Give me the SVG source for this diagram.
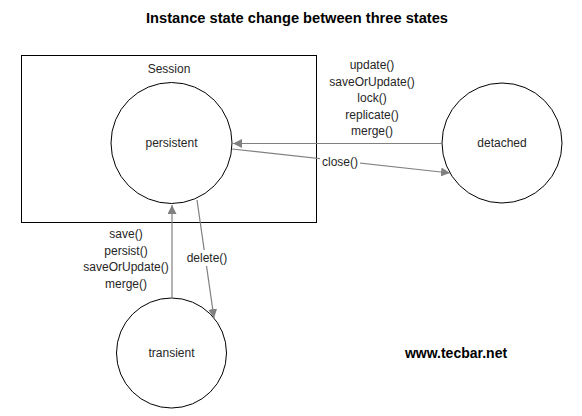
<svg xmlns="http://www.w3.org/2000/svg" width="582" height="416" viewBox="0 0 582 416">
<style>
.t{font-family:"Liberation Sans",Arial,sans-serif;font-size:12px;fill:#262626;text-anchor:middle}
.st{fill:#fff;stroke:#000;stroke-width:1}
.c{stroke:#808080;stroke-width:1.2;fill:none;marker-end:url(#ah)}
</style>
<defs>
<marker id="ah" viewBox="0 0 10 10" refX="10" refY="5" markerWidth="9" markerHeight="9" markerUnits="userSpaceOnUse" orient="auto">
<path d="M0,0 L10,5 L0,10 z" fill="#808080"/>
</marker>
</defs>
<rect width="582" height="416" fill="#fff"/>
<text x="297" y="23" textLength="302" lengthAdjust="spacingAndGlyphs" style="font-family:'Liberation Sans',Arial,sans-serif;font-size:15px;font-weight:bold;fill:#000;text-anchor:middle">Instance state change between three states</text>
<g id="session">
<rect x="21.5" y="55.5" width="295" height="167" fill="none" stroke="#000" stroke-width="1"/>
<text class="t" x="169" y="73">Session</text>
</g>
<g id="persistent">
<circle class="st" cx="171.5" cy="143" r="60.5"/>
<text class="t" x="171.5" y="147">persistent</text>
</g>
<g id="detached">
<circle class="st" cx="502" cy="143" r="60"/>
<text class="t" x="502" y="147">detached</text>
</g>
<g id="transient">
<circle class="st" cx="171.5" cy="353" r="55"/>
<text class="t" x="171.5" y="357">transient</text>
</g>
<g id="connectors">
<line class="c" x1="442" y1="143.5" x2="233" y2="143.5"/>
<line class="c" x1="232" y1="149" x2="450" y2="173"/>
<line class="c" x1="172" y1="298" x2="172" y2="205"/>
<line class="c" x1="197" y1="200" x2="214" y2="318"/>
<rect x="320" y="153" width="40" height="16" fill="#fff"/>
<text class="t" x="340" y="166">close()</text>
<text class="t" x="372" y="69">update()</text>
<text class="t" x="372" y="85.5">saveOrUpdate()</text>
<text class="t" x="372" y="102">lock()</text>
<text class="t" x="372" y="118.5">replicate()</text>
<text class="t" x="372" y="135">merge()</text>
<text class="t" x="126" y="238">save()</text>
<text class="t" x="126" y="254.5">persist()</text>
<text class="t" x="126" y="271">saveOrUpdate()</text>
<text class="t" x="126" y="287.5">merge()</text>
<rect x="188" y="250" width="40" height="16" fill="#fff"/>
<text class="t" x="207" y="262">delete()</text>
</g>
<text x="456" y="358" style="font-family:'Liberation Sans',Arial,sans-serif;font-size:14px;font-weight:bold;fill:#000;text-anchor:middle">www.tecbar.net</text>
</svg>
